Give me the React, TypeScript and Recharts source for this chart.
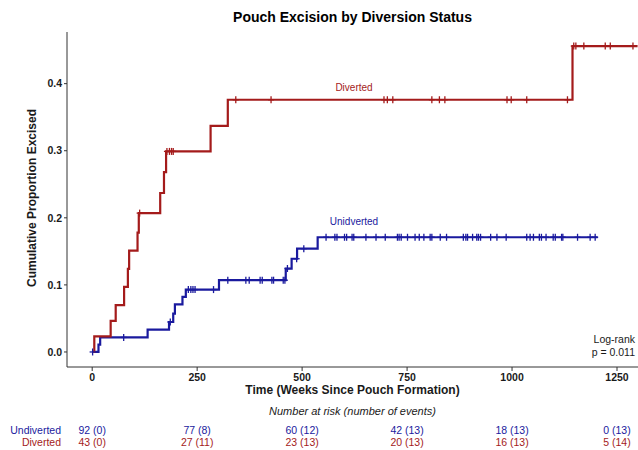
import { ComposedChart, Line, Scatter, XAxis, YAxis } from 'recharts';

const RED = '#a41b1b';
const BLUE = '#1a1a9e';
const INK = '#1a1a1a';
const FONT = "'Liberation Sans', Arial, sans-serif";

// Diverted: event times (weeks) and cumulative proportion excised after each step
const DIV_T = [0, 5, 44, 56, 76, 85, 88, 108, 111, 162, 171, 176, 282, 323, 1144, 1299];
const DIV_S = [0, 0.0233, 0.0465, 0.0698, 0.097, 0.124, 0.151, 0.178, 0.207, 0.237, 0.268, 0.299, 0.337, 0.376, 0.456, 0.456];
const DIV_CENSOR = [113, 178, 184, 189, 193, 342, 426, 695, 703, 716, 809, 827, 840, 988, 998, 1035, 1132, 1147, 1152, 1171, 1222, 1234, 1288];

// Undiverted
const UND_T = [0, 15, 19, 132, 183, 193, 197, 215, 223, 302, 461, 475, 488, 537, 1204];
const UND_S = [0, 0.0109, 0.0217, 0.0334, 0.0447, 0.0573, 0.0711, 0.082, 0.093, 0.107, 0.1244, 0.139, 0.154, 0.171, 0.171];
const UND_CENSOR = [
  1, 75, 186, 229, 235, 240, 245, 289, 323, 366, 374, 400, 405, 428, 432, 455, 459, 465, 487, 504,
  557, 578, 583, 601, 606, 619, 623, 652, 676, 698, 727, 731, 736, 751, 769, 779, 790, 805, 809,
  829, 844, 884, 890, 894, 906, 916, 920, 925, 949, 964, 986, 1035, 1043, 1051, 1065, 1070, 1081,
  1098, 1103, 1118, 1121, 1156, 1186, 1198,
];

// number at risk table
const RISK_TIMES = [0, 250, 500, 750, 1000, 1250];
const UND_RISK = [92, 77, 60, 42, 18, 0];
const UND_EVENTS = [0, 8, 12, 13, 13, 13];
const DIV_RISK = [43, 27, 23, 20, 16, 5];
const DIV_EVENTS = [0, 11, 13, 13, 13, 14];

const Y_TICKS = [0, 0.1, 0.2, 0.3, 0.4];

function stepAt(ts: number[], ss: number[], t: number) {
  let v = ss[0];
  for (let i = 0; i < ts.length; i++) if (ts[i] <= t) v = ss[i];
  return v;
}

const divLine = DIV_T.map((t, i) => ({ t, s: DIV_S[i] }));
const undLine = UND_T.map((t, i) => ({ t, s: UND_S[i] }));
const divCens = DIV_CENSOR.map((t) => ({ t, s: stepAt(DIV_T, DIV_S, t) }));
const undCens = UND_CENSOR.map((t) => ({ t, s: stepAt(UND_T, UND_S, t) }));

const censorMark = (color: string) => (props: any) => {
  const { cx, cy } = props;
  return (
    <g stroke={color} strokeWidth={1.3}>
      <line x1={cx} x2={cx} y1={cy - 3.5} y2={cy + 3.5} />
      <line x1={cx - 3} x2={cx + 3} y1={cy} y2={cy} />
    </g>
  );
};

function RiskTick(props: any) {
  const { x, y, payload } = props;
  const i = RISK_TIMES.indexOf(payload.value);
  return (
    <g fontFamily={FONT}>
      <text x={x} y={y} dy={7.7} textAnchor="middle" fontSize={10.5} fontWeight="bold" fill={INK}>
        {payload.value}
      </text>
      {i >= 0 && (
        <>
          <text x={x} y={y} dy={61} textAnchor="middle" fontSize={10.5} fill={BLUE}>
            {`${UND_RISK[i]} (${UND_EVENTS[i]})`}
          </text>
          <text x={x} y={y} dy={72.5} textAnchor="middle" fontSize={10.5} fill={RED}>
            {`${DIV_RISK[i]} (${DIV_EVENTS[i]})`}
          </text>
        </>
      )}
    </g>
  );
}

export default function App() {
  return (
    <div style={{ position: 'absolute', left: 0, top: 0, width: 638, height: 450, background: '#fff' }}>
      <ComposedChart width={638} height={450} margin={{ top: 32, right: 0, bottom: 63, left: 0 }}>
        <XAxis
          dataKey="t"
          type="number"
          domain={[-60, 1300]}
          ticks={RISK_TIMES}
          allowDataOverflow
          height={20}
          stroke="#333"
          tickSize={4}
          tick={<RiskTick />}
        />
        <YAxis
          type="number"
          domain={[-0.0224, 0.477]}
          ticks={Y_TICKS}
          allowDataOverflow
          width={67}
          stroke="#333"
          tickSize={3}
          tickFormatter={(v: number) => v.toFixed(1)}
          tick={{ fontSize: 10.5, fontWeight: 'bold', fill: INK, fontFamily: FONT }}
        />
        <Line data={undLine} dataKey="s" type="stepAfter" stroke={BLUE} strokeWidth={2.2} dot={false} isAnimationActive={false} />
        <Line data={divLine} dataKey="s" type="stepAfter" stroke={RED} strokeWidth={2.2} dot={false} isAnimationActive={false} />
        <Scatter data={undCens} dataKey="s" shape={censorMark(BLUE)} isAnimationActive={false} />
        <Scatter data={divCens} dataKey="s" shape={censorMark(RED)} isAnimationActive={false} />
      </ComposedChart>
      <svg width={638} height={450} style={{ position: 'absolute', left: 0, top: 0, pointerEvents: 'none' }} fontFamily={FONT}>
        <text x={352.5} y={22} textAnchor="middle" fontSize={14} fontWeight="bold" fill="#000">
          Pouch Excision by Diversion Status
        </text>
        <text transform="translate(35.7,198) rotate(-90)" textAnchor="middle" fontSize={12} fontWeight="bold" fill={INK}>
          Cumulative Proportion Excised
        </text>
        <text x={352.5} y={394.2} textAnchor="middle" fontSize={12} fontWeight="bold" fill={INK}>
          Time (Weeks Since Pouch Formation)
        </text>
        <text x={352.5} y={414.5} textAnchor="middle" fontSize={11} fontStyle="italic" fill={INK}>
          Number at risk (number of events)
        </text>
        <text x={61} y={434} textAnchor="end" fontSize={10.5} fill={BLUE}>Undiverted</text>
        <text x={61} y={445.5} textAnchor="end" fontSize={10.5} fill={RED}>Diverted</text>
        <text x={635} y={342.7} textAnchor="end" fontSize={10.5} fill={INK}>Log-rank</text>
        <text x={635} y={356} textAnchor="end" fontSize={10.5} fill={INK}>p = 0.011</text>
        <text x={354} y={90.8} textAnchor="middle" fontSize={10} fill={RED}>Diverted</text>
        <text x={354} y={225.2} textAnchor="middle" fontSize={10} fill={BLUE}>Unidverted</text>
      </svg>
    </div>
  );
}
